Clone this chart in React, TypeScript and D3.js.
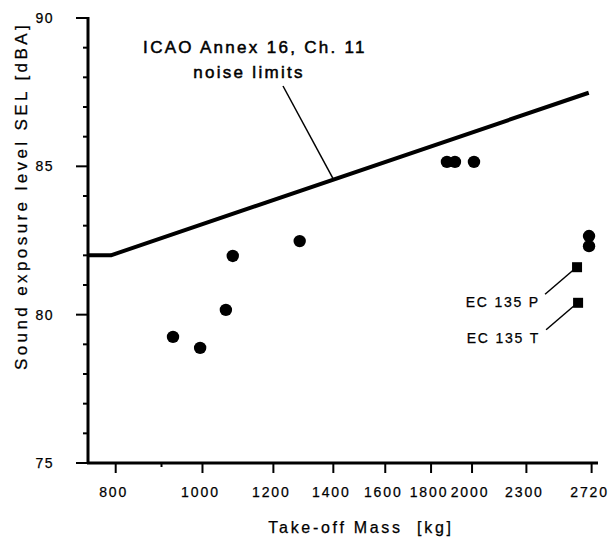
import React, { useEffect, useRef } from 'react'
import * as d3 from 'd3'

// values
const massTicks = [800, 1000, 1200, 1400, 1600, 1800, 2000, 2300, 2720]
const massMinorTicks = [900]
const selTicks = [75, 80, 85, 90]
const selMinorTicks = [76, 77, 78, 79, 81, 82, 83, 84, 86, 87, 88, 89]

// ICAO Annex 16 Ch. 11 limit line: [mass kg, SEL dBA]
const limitLine: [number, number][] = [[745, 82], [790, 82], [2700, 87.48]]

// measured helicopters (circles)
const heliMass = [927, 994, 1062, 1081, 1284, 1875, 1914, 2010, 2702, 2702]
const heliSel = [79.25, 78.88, 80.16, 81.98, 82.48, 85.15, 85.15, 85.15, 82.65, 82.31]

// EC 135 (squares)
const ecNames = ['EC 135 P', 'EC 135 T']
const ecMass = [2620, 2627]
const ecSel = [81.6, 80.4]

const font = '"Liberation Sans", Arial, Helvetica, sans-serif'

export default function App() {
  const node = useRef<SVGSVGElement>(null)

  useEffect(() => {
    const svg = d3.select(node.current)
    svg.selectAll('*').remove()

    const width = 609, height = 538
    const left = 88, right = 598, top = 18, bottom = 463

    const x = d3.scaleLog().domain([745, 2765]).range([left, right])
    const y = d3.scaleLinear().domain([75, 90]).range([bottom, top])

    svg.attr('width', width).attr('height', height)
    svg.append('rect').attr('width', width).attr('height', height).attr('fill', '#fff')

    // axes
    const ax = svg.append('g').attr('stroke', '#000').attr('fill', 'none')
    ax.append('line').attr('x1', left).attr('x2', left).attr('y1', top - 1).attr('y2', bottom + 1).attr('stroke-width', 3)
    ax.append('line').attr('x1', left - 1).attr('x2', right).attr('y1', bottom).attr('y2', bottom).attr('stroke-width', 3)

    ax.selectAll('.ymaj').data(selTicks).enter().append('line')
      .attr('x1', left - 12).attr('x2', left).attr('y1', d => y(d)).attr('y2', d => y(d)).attr('stroke-width', 2)
    ax.selectAll('.ymin').data(selMinorTicks).enter().append('line')
      .attr('x1', left - 5).attr('x2', left).attr('y1', d => y(d)).attr('y2', d => y(d)).attr('stroke-width', 2)
    ax.selectAll('.xmaj').data(massTicks).enter().append('line')
      .attr('x1', d => x(d)).attr('x2', d => x(d)).attr('y1', bottom).attr('y2', bottom + 10).attr('stroke-width', 2)
    ax.selectAll('.xmin').data(massMinorTicks).enter().append('line')
      .attr('x1', d => x(d)).attr('x2', d => x(d)).attr('y1', bottom).attr('y2', bottom + 4).attr('stroke-width', 2)

    const txt = svg.append('g').attr('font-family', font).attr('fill', '#000')
      .attr('stroke', '#000').attr('stroke-width', 0.25)

    txt.selectAll('.ylab').data(selTicks).enter().append('text')
      .text(d => d)
      .attr('x', 54).attr('y', d => y(d) + 5)
      .attr('text-anchor', 'end').attr('font-size', 14).attr('letter-spacing', 1.5)

    txt.selectAll('.xlab').data(massTicks).enter().append('text')
      .text(d => d)
      .attr('x', d => x(d) - 2).attr('y', 497)
      .attr('text-anchor', 'middle').attr('font-size', 14).attr('letter-spacing', 1.9)

    txt.append('text').text('Take-off Mass  [kg]')
      .attr('x', 361).attr('y', 533).attr('text-anchor', 'middle')
      .attr('font-size', 16).attr('letter-spacing', 2.7).style('white-space', 'pre')

    txt.append('text').text('Sound exposure level SEL [dBA]')
      .attr('transform', 'translate(27,196) rotate(-90)').attr('text-anchor', 'middle')
      .attr('font-size', 17).attr('letter-spacing', 3.4)

    // limit line
    const line = d3.line<[number, number]>().x(d => x(d[0])).y(d => y(d[1]))
    svg.append('path').attr('d', line(limitLine))
      .attr('fill', 'none').attr('stroke', '#000').attr('stroke-width', 4).attr('stroke-linejoin', 'round')

    // annotation
    txt.append('text').text('ICAO Annex 16, Ch. 11')
      .attr('x', 255).attr('y', 53).attr('text-anchor', 'middle')
      .attr('font-size', 17).attr('letter-spacing', 2.3).attr('stroke-width', 0.5)
    txt.append('text').text('noise limits')
      .attr('x', 249).attr('y', 78).attr('text-anchor', 'middle')
      .attr('font-size', 17).attr('letter-spacing', 2.3).attr('stroke-width', 0.5)
    svg.append('line').attr('x1', 283).attr('y1', 86).attr('x2', x(1400)).attr('y2', y(84.5) - 2)
      .attr('stroke', '#000').attr('stroke-width', 1.5)

    // points
    svg.selectAll('.heli').data(heliMass).enter().append('circle')
      .attr('cx', d => x(d)).attr('cy', (d, i) => y(heliSel[i])).attr('r', 6.2).attr('fill', '#000')

    svg.selectAll('.ec').data(ecMass).enter().append('rect')
      .attr('x', d => x(d) - 5).attr('y', (d, i) => y(ecSel[i]) - 5)
      .attr('width', 10).attr('height', 10).attr('fill', '#000')

    ecNames.forEach((name, i) => {
      const px = x(ecMass[i]), py = y(ecSel[i])
      svg.append('line').attr('x1', px - 32).attr('y1', py + 27).attr('x2', px - 4).attr('y2', py + 3)
        .attr('stroke', '#000').attr('stroke-width', 1.5)
      txt.append('text').text(name)
        .attr('x', 540).attr('y', py + 40).attr('text-anchor', 'end')
        .attr('font-size', 14).attr('letter-spacing', 1.8)
    })
  }, [])

  return <svg ref={node} style={{ position: 'absolute', left: 0, top: 0 }}></svg>
}
